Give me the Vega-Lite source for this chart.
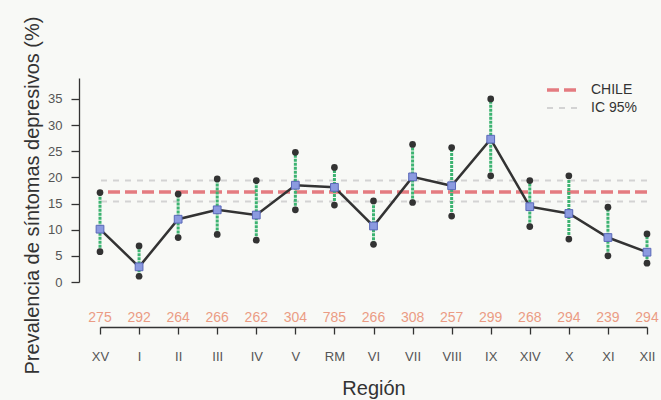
{
  "$schema": "https://vega.github.io/schema/vega-lite/v6.json",
  "width": 547,
  "height": 204,
  "autosize": "none",
  "padding": {"left": 100, "top": 78, "right": 14, "bottom": 118},
  "background": "#f8f9f6",
  "config": {
    "font": "Liberation Sans",
    "view": {"stroke": null},
    "axis": {"grid": false, "domainColor": "#333", "tickColor": "#333", "labelColor": "#555", "labelFontSize": 13, "titleColor": "#333", "titleFontWeight": "normal", "titleFontSize": 20, "domainWidth": 1.3, "tickWidth": 1.3, "labelOverlap": false},
    "axisY": {"tickCount": 8}
  },
  "datasets": {
    "reg": [
      {"region": "XV", "n": 275, "p": 10.1, "lo": 5.8, "hi": 17.1},
      {"region": "I", "n": 292, "p": 2.9, "lo": 1.1, "hi": 6.9},
      {"region": "II", "n": 264, "p": 12.0, "lo": 8.5, "hi": 16.8},
      {"region": "III", "n": 266, "p": 13.8, "lo": 9.1, "hi": 19.7},
      {"region": "IV", "n": 262, "p": 12.8, "lo": 8.0, "hi": 19.4},
      {"region": "V", "n": 304, "p": 18.5, "lo": 13.8, "hi": 24.8},
      {"region": "RM", "n": 785, "p": 18.1, "lo": 14.7, "hi": 21.9},
      {"region": "VI", "n": 266, "p": 10.7, "lo": 7.2, "hi": 15.5},
      {"region": "VII", "n": 308, "p": 20.1, "lo": 15.2, "hi": 26.3},
      {"region": "VIII", "n": 257, "p": 18.4, "lo": 12.6, "hi": 25.7},
      {"region": "IX", "n": 299, "p": 27.3, "lo": 20.3, "hi": 35.0},
      {"region": "XIV", "n": 268, "p": 14.4, "lo": 10.6, "hi": 19.4},
      {"region": "X", "n": 294, "p": 13.1, "lo": 8.2, "hi": 20.3},
      {"region": "XI", "n": 239, "p": 8.5, "lo": 5.0, "hi": 14.3},
      {"region": "XII", "n": 294, "p": 5.7, "lo": 3.6, "hi": 9.2}
    ],
    "ref": [
      {"serie": "CHILE", "v": 17.2},
      {"serie": "IC 95%", "v": 19.4},
      {"serie": "IC 95%", "v": 15.4}
    ]
  },
  "encoding": {
    "x": {
      "field": "region", "type": "ordinal",
      "sort": ["XV","I","II","III","IV","V","RM","VI","VII","VIII","IX","XIV","X","XI","XII"],
      "scale": {"type": "point", "padding": 0},
      "axis": {"title": "Región", "labelAngle": 0, "offset": 45, "tickSize": 7, "labelPadding": 16, "titlePadding": 15}
    }
  },
  "layer": [
    {
      "data": {"name": "ref"},
      "mark": {"type": "rule"},
      "encoding": {
        "x": null,
        "y": {"field": "v", "type": "quantitative", "scale": {"domain": [0, 39], "nice": false},
          "axis": {"title": "Prevalencia de síntomas depresivos (%)", "values": [0,5,10,15,20,25,30,35], "offset": 21, "tickSize": 8, "labelPadding": 9, "titlePadding": 5, "titleY": 117}},
        "color": {"field": "serie", "type": "nominal", "scale": {"domain": ["CHILE", "IC 95%"], "range": ["#e47b80", "#d3d3d3"]},
          "legend": {"title": null, "orient": "none", "legendX": 450, "legendY": 0, "symbolType": "M-1.5,0H1.5", "symbolStrokeWidth": 3, "symbolSize": 400, "labelFontSize": 14, "labelColor": "#333", "rowPadding": -7, "labelOffset": 17}},
        "strokeDash": {"field": "serie", "type": "nominal", "scale": {"domain": ["CHILE", "IC 95%"], "range": [[12, 5], [6, 6]]}},
        "strokeWidth": {"field": "serie", "type": "nominal", "scale": {"domain": ["CHILE", "IC 95%"], "range": [3.5, 2]}, "legend": null}
      }
    },
    {
      "data": {"name": "reg"},
      "mark": {"type": "rule", "color": "#3cb371", "strokeWidth": 3, "strokeDash": [3, 1]},
      "encoding": {
        "y": {"field": "lo", "type": "quantitative"},
        "y2": {"field": "hi"}
      }
    },
    {
      "data": {"name": "reg"},
      "mark": {"type": "line", "color": "#333", "strokeWidth": 2.5},
      "encoding": {
        "y": {"field": "p", "type": "quantitative"}
      }
    },
    {
      "data": {"name": "reg"},
      "mark": {"type": "point", "filled": true, "color": "#333", "size": 45, "opacity": 1},
      "encoding": {"y": {"field": "lo", "type": "quantitative"}}
    },
    {
      "data": {"name": "reg"},
      "mark": {"type": "point", "filled": true, "color": "#333", "size": 45, "opacity": 1},
      "encoding": {"y": {"field": "hi", "type": "quantitative"}}
    },
    {
      "data": {"name": "reg"},
      "mark": {"type": "point", "shape": "square", "filled": true, "fill": "#8b9ae0", "stroke": "#5a68b8", "strokeWidth": 1, "size": 60, "opacity": 1},
      "encoding": {"y": {"field": "p", "type": "quantitative"}}
    },
    {
      "data": {"name": "reg"},
      "mark": {"type": "text", "color": "#eb9c84", "fontSize": 14, "baseline": "middle"},
      "encoding": {
        "y": {"datum": -6.9, "type": "quantitative"},
        "text": {"field": "n"}
      }
    }
  ]
}
